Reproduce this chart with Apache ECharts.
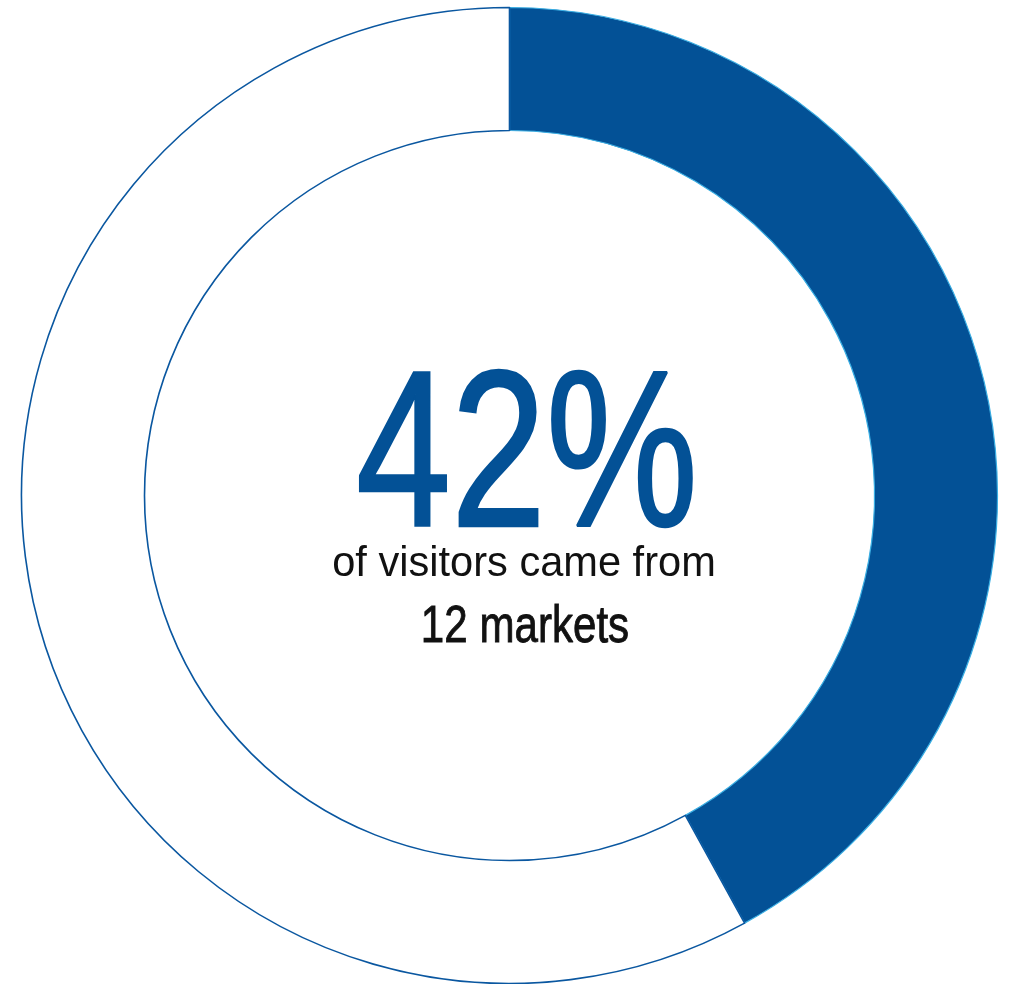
<!DOCTYPE html>
<html>
<head>
<meta charset="utf-8">
<style>
  html, body { margin: 0; padding: 0; background: #ffffff; }
  #chart { width: 1010px; height: 984px; }
</style>
<script src="https://cdn.jsdelivr.net/npm/echarts@6/dist/echarts.min.js"></script>
</head>
<body>
<div id="chart"></div>
<script>
// Share of visitors: the 12 key markets vs. everyone else
const categories = ['12 markets', 'Other markets'];
const shareValues = [42, 58];
const captionLine = 'of visitors came from';
const marketLabel = '12 markets';

const BLUE = '#035196';
const FONT = '"Liberation Sans", Arial, sans-serif';

const chart = echarts.init(document.getElementById('chart'), null, { renderer: 'canvas' });

chart.setOption({
  backgroundColor: '#ffffff',
  animation: false,
  series: [{
    type: 'pie',
    center: [509.5, 495.5],
    radius: [365, 488],
    startAngle: 90,
    clockwise: true,
    silent: true,
    label: { show: false },
    labelLine: { show: false },
    emphasis: { disabled: true },
    data: categories.map((name, i) => ({
      name,
      value: shareValues[i],
      itemStyle: i === 0
        ? { color: BLUE, borderColor: '#3aaee3', borderWidth: 1.2 }
        : { color: '#ffffff', borderColor: '#0a57a0', borderWidth: 1.6 }
    }))
  }],
  // Centre captions, horizontally condensed to a narrow face
  graphic: [
    {
      type: 'text', x: 527, y: 465, scaleX: 0.77, silent: true,
      style: {
        text: shareValues[0] + '%',
        fill: BLUE,
        stroke: BLUE,
        lineWidth: 2.5,
        font: '222px ' + FONT,
        align: 'center', verticalAlign: 'middle'
      }
    },
    {
      type: 'text', x: 524, y: 564, scaleX: 0.99, silent: true,
      style: {
        text: captionLine,
        fill: '#111111',
        font: '42px ' + FONT,
        align: 'center', verticalAlign: 'middle'
      }
    },
    {
      type: 'text', x: 525, y: 628, scaleX: 0.81, silent: true,
      style: {
        text: marketLabel,
        fill: '#111111',
        stroke: '#111111',
        lineWidth: 0.9,
        font: '52px ' + FONT,
        align: 'center', verticalAlign: 'middle'
      }
    }
  ]
});
</script>
</body>
</html>
